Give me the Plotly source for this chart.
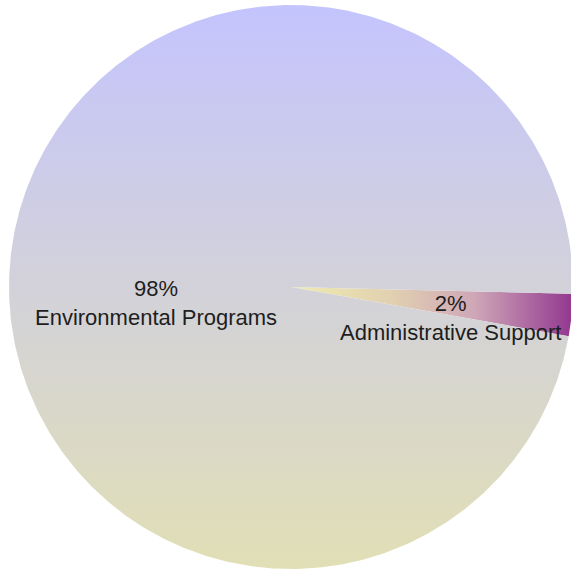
import numpy as np
import plotly.graph_objects as go

# Budget split (slices drawn clockwise in this order)
categories = ["Administrative Support", "Environmental Programs"]
values = [2.4, 97.6]

# Slice styling (gradient fills)
gradients = [
    dict(type="horizontal", start=0.0, stop=1.0,
         colorscale=[[0.0, "#efebb0"], [0.35, "#e2d1b1"], [0.65, "#cfa7b7"], [1.0, "#92378f"]]),
    dict(type="vertical", start=-1.0, stop=1.0,
         colorscale=[[0.0, "#e1dfb5"], [1.0, "#c4c4fe"]]),
]
label_radius = [0.57, 0.48]
label_yshift = [-15, -29]

start_angle = -1.4  # degrees, counter-clockwise from 3 o'clock; slices run clockwise
center_px = (291, 287)
radius_px = 282
size_px = 571

total = float(sum(values))
fig = go.Figure()
annotations = []
a0 = start_angle
for i, (cat, v) in enumerate(zip(categories, values)):
    sweep = 360.0 * v / total
    a1 = a0 - sweep
    theta = np.radians(np.linspace(a0, a1, max(int(sweep * 2), 8)))
    xs = np.concatenate([[0.0], np.cos(theta), [0.0]])
    ys = np.concatenate([[0.0], np.sin(theta), [0.0]])
    fig.add_trace(go.Scatter(
        x=xs, y=ys, mode="lines", fill="toself",
        line=dict(width=0, color="rgba(0,0,0,0)"),
        fillgradient=gradients[i],
        hoverinfo="text", text=f"{cat}: {v / total:.0%}",
        showlegend=False,
    ))
    mid = np.radians((a0 + a1) / 2.0)
    annotations.append(dict(
        x=label_radius[i] * np.cos(mid), y=label_radius[i] * np.sin(mid),
        text=f"{v / total:.0%}<br>{cat}", showarrow=False,
        xanchor="center", yanchor="middle", yshift=label_yshift[i],
        font=dict(family="Liberation Sans, Arial, sans-serif", size=22, color="#1e1e1e"),
        align="center",
    ))
    a0 = a1

cx, cy = center_px
r = radius_px
fig.update_layout(
    width=size_px, height=size_px,
    margin=dict(l=0, r=0, t=0, b=0),
    paper_bgcolor="white", plot_bgcolor="white",
    xaxis=dict(range=[-cx / r, (size_px - cx) / r], visible=False, fixedrange=True),
    yaxis=dict(range=[-(size_px - cy) / r, cy / r], visible=False, fixedrange=True),
    annotations=annotations,
    showlegend=False,
)

fig.write_html("out.html")
